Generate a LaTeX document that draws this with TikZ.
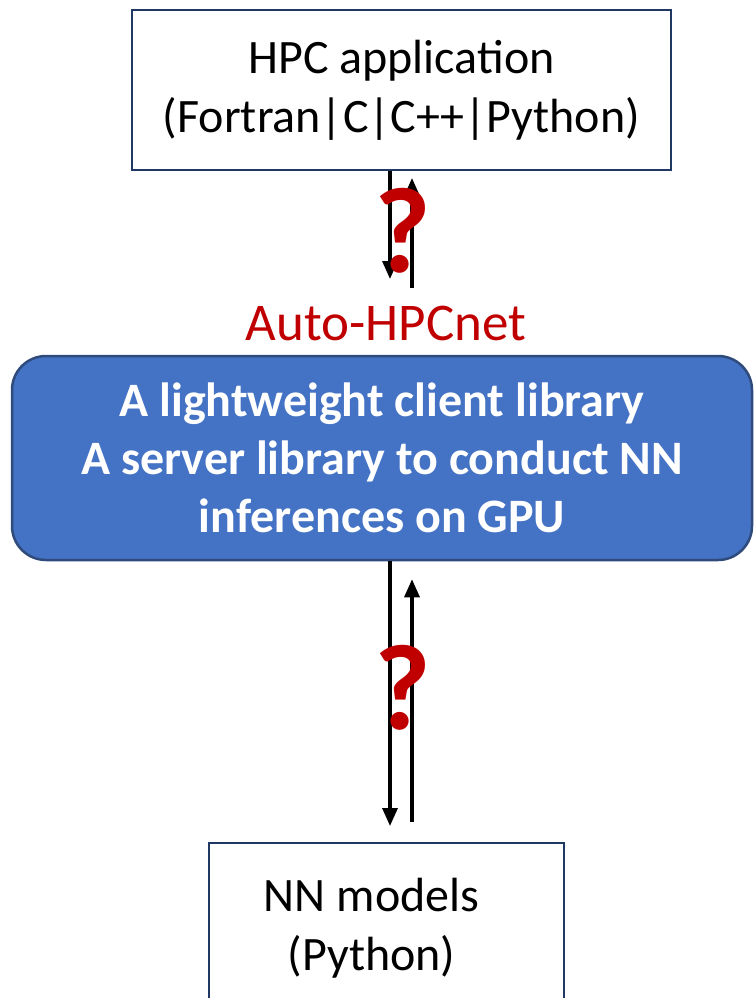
\documentclass[tikz,border=0pt]{standalone}
\usepackage{fontspec}
\setmainfont{Carlito}
\usepackage{tikz}
\usetikzlibrary{positioning}
\usetikzlibrary{arrows.meta}
\usepackage{xcolor}
\definecolor{boxline}{HTML}{203864}
\definecolor{libfill}{HTML}{4472C4}
\definecolor{libline}{HTML}{2F4B7C}
\definecolor{qred}{HTML}{C00000}

\begin{document}
\begin{tikzpicture}[x=1pt,y=-1pt,
  appbox/.style={draw=boxline, line width=2pt, fill=white, align=center, font=\fontsize{48}{59}\selectfont},
  libbox/.style={draw=libline, line width=2.5pt, fill=libfill, rounded corners=34pt, text=white, align=center, font=\bfseries\fontsize{48}{58}\selectfont},
  flow/.style={line width=3.2pt, -{Triangle[width=15pt,length=18pt]}},
  qmark/.style={text=qred, font=\bfseries\fontsize{122}{122}\selectfont, inner sep=0pt}]

\useasboundingbox (0,0) rectangle (754,998);

\node[appbox, minimum width=539pt, minimum height=160pt] (app) at (401.5,90) {HPC application\\(Fortran|C|C++|Python)};

\node[text=qred, font=\fontsize{53}{60}\selectfont] (title) at (386,323) {Auto-HPCnet};

\node[libbox, minimum width=740pt, minimum height=204pt] (lib) at (382,458) {A lightweight client library\\A server library to conduct NN\\inferences on GPU};

\node[appbox, minimum width=355pt, minimum height=170pt] (models) at (386.5,928) {NN models\hspace*{30pt}\\(Python)\hspace*{30pt}};

% arrows between the application and the library
\coordinate (d1) at (390,279);
\coordinate (u1) at (412,288);
\draw[flow] (app.south -| d1) -- (d1);
\draw[flow] (u1) -- ([yshift=-7pt]app.south -| u1);

% arrows between the library and the models
\coordinate (d2) at (390,826);
\coordinate (u2) at (412,822);
\draw[flow] (lib.south -| d2) -- (d2);
\draw[flow] (u2) -- ([yshift=-18pt]lib.south -| u2);

\node[qmark] (q1) at (403,231) {?};
\node[qmark] (q2) at (403,688) {?};

\end{tikzpicture}
\end{document}
